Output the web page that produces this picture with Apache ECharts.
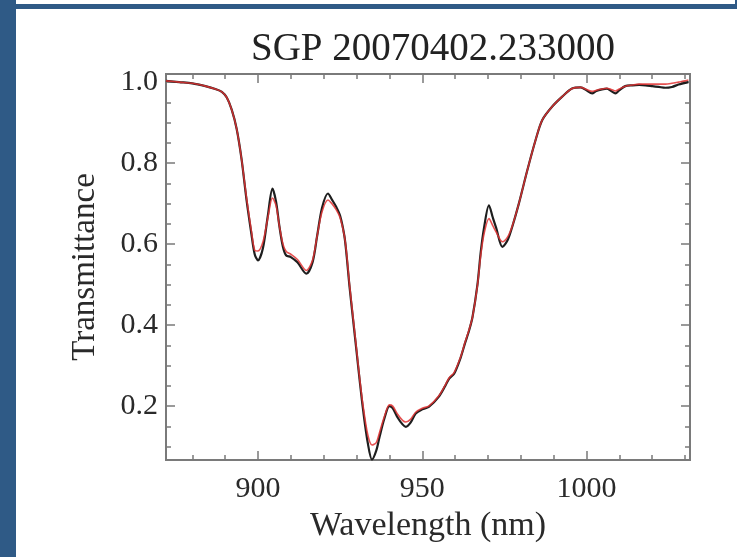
<!DOCTYPE html>
<html><head><meta charset="utf-8">
<script src="https://cdn.jsdelivr.net/npm/echarts@6/dist/echarts.min.js"></script>
<style>html,body{margin:0;padding:0;background:#fff}#c{width:738px;height:557px}</style>
</head><body><div id="c"></div>
<script>
var titleText = 'SGP 20070402.233000';
var xName = 'Wavelength (nm)';
var yName = 'Transmittance';
var xMajor = [900, 950, 1000];
var xMinor = [880, 890, 910, 920, 930, 940, 960, 970, 980, 990, 1010, 1020, 1030];
var yMajor = [0.2, 0.4, 0.6, 0.8, 1.0];
var yMinor = [0.1, 0.15, 0.25, 0.3, 0.35, 0.45, 0.5, 0.55, 0.65, 0.7, 0.75, 0.85, 0.9, 0.95];
var wavelength = [872, 876, 880, 884, 887, 889, 890.5, 892, 893.5, 895, 896.5, 898, 899, 900, 901.5, 903, 904.4, 905.5, 906.5, 907.6, 908.6, 910, 912, 914.7, 916.6, 918, 919.5, 921.3, 922.5, 923.8, 925, 926.3, 927, 927.8, 929, 930, 931, 932, 933.4, 934.7, 936, 937, 938.5, 940, 941, 942.5, 944, 945, 946.5, 948, 950, 952, 955, 957, 958.2, 959.7, 961.7, 963, 964.3, 965.3, 966.8, 967.8, 968.8, 970.3, 971.5, 972.5, 974.4, 976, 977.4, 979.4, 982, 984.5, 986.5, 989.5, 992.6, 995.6, 998.2, 1000, 1001.7, 1003, 1004.7, 1006.2, 1007.5, 1008.8, 1010, 1011.8, 1014, 1016, 1018, 1020, 1022, 1024, 1026, 1028, 1030, 1031];
var measured = [1.003, 1.000, 0.997, 0.990, 0.983, 0.976, 0.962, 0.932, 0.885, 0.81, 0.71, 0.625, 0.575, 0.56, 0.59, 0.67, 0.737, 0.705, 0.645, 0.593, 0.572, 0.568, 0.555, 0.527, 0.555, 0.62, 0.69, 0.725, 0.71, 0.692, 0.67, 0.62, 0.57, 0.50, 0.41, 0.335, 0.26, 0.19, 0.11, 0.068, 0.09, 0.124, 0.17, 0.2, 0.195, 0.172, 0.155, 0.149, 0.16, 0.182, 0.192, 0.198, 0.223, 0.25, 0.268, 0.28, 0.32, 0.355, 0.388, 0.42, 0.5, 0.58, 0.64, 0.696, 0.665, 0.64, 0.593, 0.61, 0.643, 0.70, 0.783, 0.857, 0.906, 0.939, 0.964, 0.984, 0.987, 0.98, 0.972, 0.978, 0.982, 0.984, 0.978, 0.972, 0.98, 0.99, 0.992, 0.993, 0.992, 0.99, 0.988, 0.986, 0.988, 0.994, 0.998, 1.0];
var modeled = [1.003, 1.000, 0.997, 0.990, 0.983, 0.976, 0.962, 0.932, 0.885, 0.81, 0.715, 0.632, 0.585, 0.583, 0.605, 0.665, 0.714, 0.695, 0.645, 0.60, 0.582, 0.575, 0.562, 0.535, 0.56, 0.62, 0.68, 0.709, 0.70, 0.685, 0.665, 0.62, 0.575, 0.505, 0.415, 0.34, 0.265, 0.2, 0.13, 0.104, 0.11, 0.135, 0.175, 0.203, 0.2, 0.18, 0.165, 0.161, 0.168, 0.185, 0.195, 0.2, 0.225, 0.252, 0.27, 0.283, 0.322, 0.357, 0.39, 0.42, 0.498, 0.572, 0.625, 0.663, 0.645, 0.63, 0.606, 0.618, 0.645, 0.70, 0.783, 0.857, 0.906, 0.939, 0.964, 0.984, 0.987, 0.982, 0.977, 0.98, 0.983, 0.985, 0.982, 0.978, 0.983, 0.99, 0.993, 0.995, 0.995, 0.995, 0.995, 0.995, 0.997, 1.0, 1.003, 1.005];

function pairs(xs, ys){ return xs.map(function(x,i){return [x, ys[i]];}); }
var FONT = 'Liberation Serif';
var AX = '#7a7a7a';
var XMIN = 872, XMAX = 1031.5, YMIN = 0.067, YMAX = 1.02;
function xAx(pos, vals, len, labels){
  return {type:'value', position:pos, min:XMIN, max:XMAX,
    axisLine:{show:true, onZero:false, lineStyle:{color:AX, width:2}},
    axisTick:{show:true, inside:true, length:len, customValues:vals, lineStyle:{color:AX, width:1.5}},
    axisLabel:{show:labels, customValues:vals, margin:14, fontFamily:FONT, fontSize:30, color:'#2a2a2a',
      formatter:function(v){return String(v);}},
    splitLine:{show:false}};
}
function yAx(pos, vals, len, labels){
  return {type:'value', position:pos, min:YMIN, max:YMAX,
    axisLine:{show:true, onZero:false, lineStyle:{color:AX, width:2}},
    axisTick:{show:true, inside:true, length:len, customValues:vals, lineStyle:{color:AX, width:1.5}},
    axisLabel:{show:labels, customValues:vals, margin:8, fontFamily:FONT, fontSize:30, color:'#2a2a2a',
      formatter:function(v){return v.toFixed(1);}},
    splitLine:{show:false}};
}
var xa0 = xAx('bottom', xMajor, 9, true);
xa0.name = xName; xa0.nameLocation = 'middle'; xa0.nameGap = 48;
xa0.nameTextStyle = {fontFamily:FONT, fontSize:34, color:'#2a2a2a'};
var ya0 = yAx('left', yMajor, 9, true);
ya0.name = yName; ya0.nameLocation = 'middle'; ya0.nameGap = 64;
ya0.nameTextStyle = {fontFamily:FONT, fontSize:33, color:'#2a2a2a'};

var chart = echarts.init(document.getElementById('c'), null, {renderer:'canvas'});
chart.setOption({
  backgroundColor:'#fff',
  animation:false,
  title:{text:titleText, left:428, textAlign:'center', top:25,
    textStyle:{fontFamily:FONT, fontSize:39, fontWeight:'normal', color:'#222'}},
  grid:{left:166, top:74, right:48, bottom:97},
  xAxis:[xa0, xAx('bottom', xMinor, 5, false), xAx('top', xMajor, 9, false), xAx('top', xMinor, 5, false)],
  yAxis:[ya0, yAx('left', yMinor, 5, false), yAx('right', yMajor, 9, false), yAx('right', yMinor, 5, false)],
  graphic:[
    {type:'rect', shape:{x:0, y:0, width:16, height:557}, style:{fill:'#2f5a86'}, z:100},
    {type:'rect', shape:{x:16, y:4, width:721, height:5}, style:{fill:'#2f5a86'}, z:100},
    {type:'rect', shape:{x:735, y:0, width:2, height:9}, style:{fill:'#2f5a86'}, z:100}
  ],
  series:[
    {type:'line', name:'measured', data:pairs(wavelength, measured), showSymbol:false, smooth:0.3,
     lineStyle:{color:'#1e1e1e', width:2.2}, z:2},
    {type:'line', name:'model', data:pairs(wavelength, modeled), showSymbol:false, smooth:0.3,
     lineStyle:{color:'rgba(225,50,50,0.85)', width:1.6}, z:3}
  ]
});
</script></body></html>
